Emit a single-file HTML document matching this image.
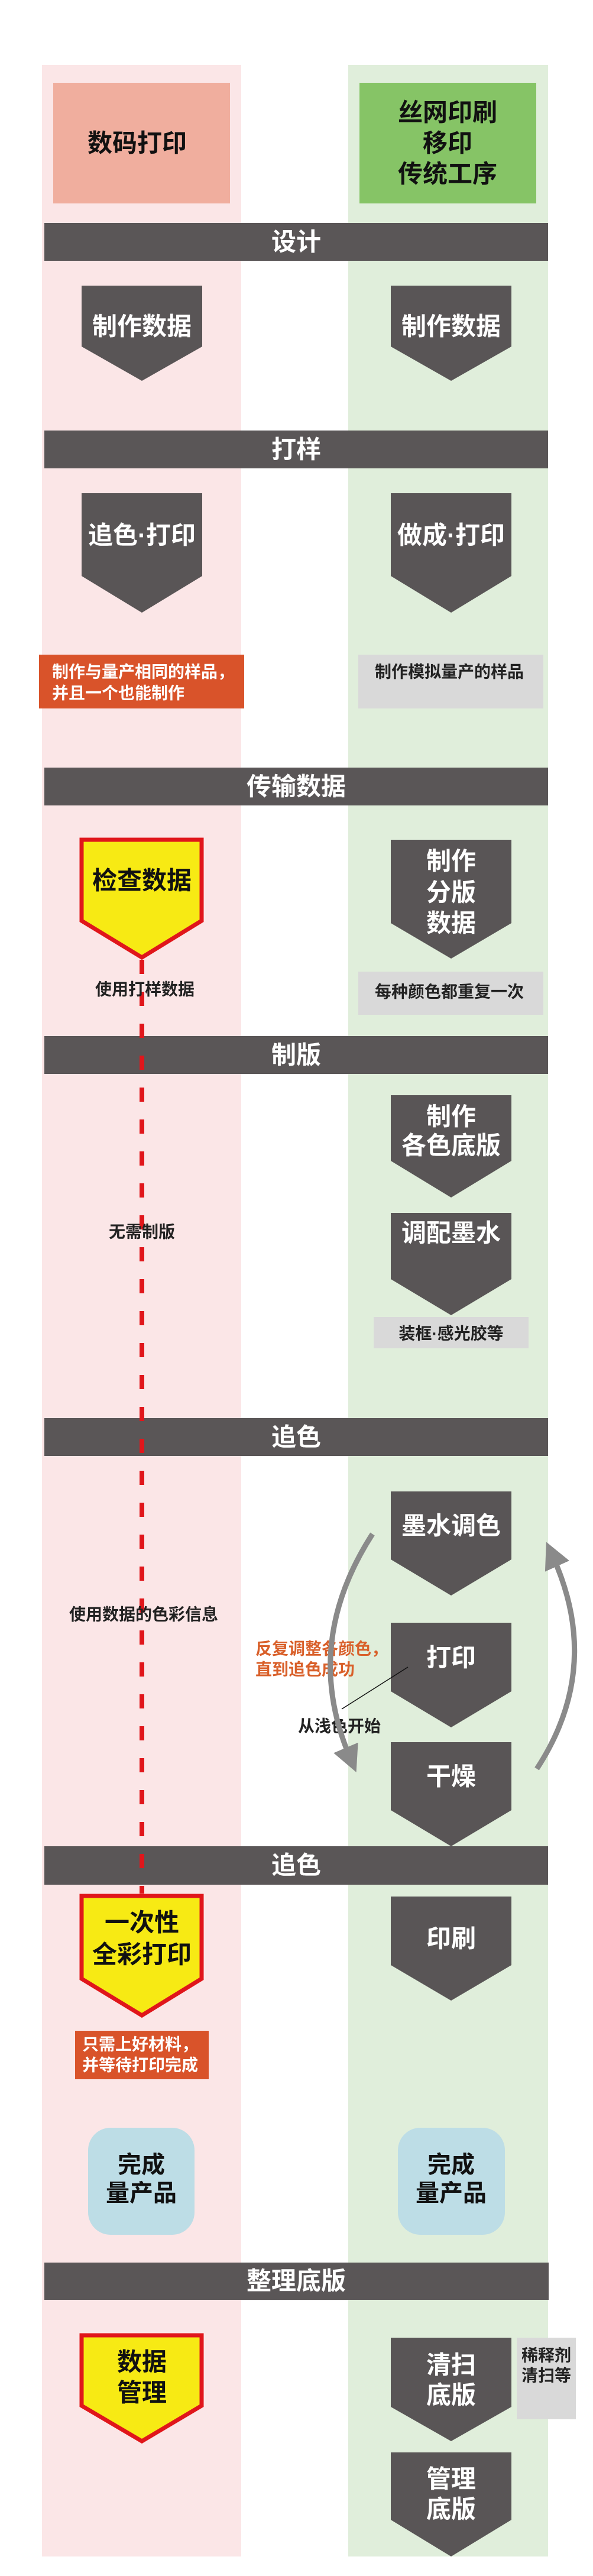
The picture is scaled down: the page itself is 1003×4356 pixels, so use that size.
<!DOCTYPE html>
<html><head><meta charset="utf-8"><style>
html,body{margin:0;padding:0;background:#fff;}
svg{display:block;}
text{font-family:"Liberation Sans","Noto Sans CJK SC",sans-serif;font-weight:bold;}
</style></head><body>
<svg width="1003" height="4356" viewBox="0 0 1003 4356" xmlns="http://www.w3.org/2000/svg">
<defs>
<marker id="ah" viewBox="0 0 10 10" refX="4" refY="5" markerWidth="5" markerHeight="5" orient="auto" markerUnits="strokeWidth">
<path d="M0,0 L10,5 L0,10 z" fill="#8a8a8a"/>
</marker>
</defs>
<rect x="71" y="110" width="337" height="4213" fill="#fbe6e7"/>
<rect x="589" y="110" width="338" height="4213" fill="#e0eedb"/>
<rect x="90" y="140" width="299" height="204" fill="#f0ae9e"/>
<rect x="608" y="140" width="299" height="204" fill="#86c466"/>
<g font-size="42" fill="#111" text-anchor="middle" dominant-baseline="central">
<text x="232" y="242">数码打印</text>
<text x="757" y="190">丝网印刷</text>
<text x="757" y="242">移印</text>
<text x="757" y="294">传统工序</text>
</g>
<g fill="#5a5657">
<rect x="75" y="377" width="852" height="64"/>
<rect x="75" y="728" width="852" height="64"/>
<rect x="75" y="1298" width="852" height="64"/>
<rect x="75" y="1752" width="852" height="64"/>
<rect x="75" y="2398" width="852" height="64"/>
<rect x="75" y="3122" width="852" height="65"/>
<rect x="75" y="3826" width="853" height="63"/>
</g>
<g font-size="42" fill="#fff" text-anchor="middle" dominant-baseline="central">
<text x="501" y="409">设计</text>
<text x="501" y="760">打样</text>
<text x="501" y="1330">传输数据</text>
<text x="501" y="1784">制版</text>
<text x="501" y="2430">追色</text>
<text x="501" y="3154">追色</text>
<text x="501" y="3857">整理底版</text>
</g>
<line x1="240" y1="1623" x2="240" y2="3202" stroke="#e0161b" stroke-width="8" stroke-dasharray="24 30"/>
<g fill="#595556">
<polygon points="138,483 342,483 342,586 240,644 138,586"/>
<polygon points="661,483 865,483 865,586 763,644 661,586"/>
<polygon points="138,834 342,834 342,974 240,1036 138,974"/>
<polygon points="661,834 865,834 865,974 763,1036 661,974"/>
<polygon points="661,1420 865,1420 865,1561 763,1621 661,1561"/>
<polygon points="661,1852 865,1852 865,1963 763,2025 661,1963"/>
<polygon points="661,2051 865,2051 865,2163 763,2224 661,2163"/>
<polygon points="661,2522 865,2522 865,2637 763,2698 661,2637"/>
<polygon points="661,2744 865,2744 865,2860 763,2921 661,2860"/>
<polygon points="661,2946 865,2946 865,3061 763,3122 661,3061"/>
<polygon points="661,3207 865,3207 865,3323 763,3383 661,3323"/>
<polygon points="661,3953 865,3953 865,4070 763,4128 661,4070"/>
<polygon points="661,4147 865,4147 865,4261 763,4323 661,4261"/>
</g>
<g fill="#f7ea14" stroke="#e0161b" stroke-width="7">
<polygon points="138,1420 341,1420 341,1557 240,1619 138,1557"/>
<polygon points="138,3206 341,3206 341,3346 240,3408 138,3346"/>
<polygon points="138,3949 341,3949 341,4068 240,4128 138,4068"/>
</g>
<g font-size="42" fill="#fff" text-anchor="middle" dominant-baseline="central">
<text x="240" y="552">制作数据</text>
<text x="763" y="552">制作数据</text>
<text x="240" y="905">追色·打印</text>
<text x="763" y="905">做成·打印</text>
<text x="763" y="1456">制作</text>
<text x="763" y="1509">分版</text>
<text x="763" y="1561">数据</text>
<text x="763" y="1888">制作</text>
<text x="763" y="1937">各色底版</text>
<text x="763" y="2085">调配墨水</text>
<text x="763" y="2580">墨水调色</text>
<text x="763" y="2803">打印</text>
<text x="763" y="3004">干燥</text>
<text x="763" y="3278">印刷</text>
<text x="763" y="3999">清扫</text>
<text x="763" y="4050">底版</text>
<text x="763" y="4192">管理</text>
<text x="763" y="4243">底版</text>
</g>
<g font-size="42" fill="#111" text-anchor="middle" dominant-baseline="central">
<text x="240" y="1489">检查数据</text>
<text x="240" y="3251">一次性</text>
<text x="240" y="3305">全彩打印</text>
<text x="240" y="3994">数据</text>
<text x="240" y="4046">管理</text>
</g>
<rect x="66" y="1107" width="347" height="91" fill="#d9532a"/>
<rect x="606" y="1107" width="313" height="91" fill="#d9d9d9"/>
<rect x="606" y="1643" width="313" height="73" fill="#d9d9d9"/>
<rect x="632" y="2227" width="262" height="53" fill="#d9d9d9"/>
<rect x="127" y="3434" width="226" height="82" fill="#d9532a"/>
<rect x="874" y="3953" width="100" height="138" fill="#d9d9d9"/>
<g font-size="28" fill="#fff" dominant-baseline="central">
<text x="88" y="1136">制作与量产相同的样品，</text>
<text x="88" y="1172">并且一个也能制作</text>
<text x="139" y="3457">只需上好材料，</text>
<text x="139" y="3492">并等待打印完成</text>
</g>
<g font-size="28" fill="#222" text-anchor="middle" dominant-baseline="central">
<text x="760" y="1136">制作模拟量产的样品</text>
<text x="760" y="1677">每种颜色都重复一次</text>
<text x="763" y="2255">装框·感光胶等</text>
<text x="924" y="3983">稀释剂</text>
<text x="924" y="4017">清扫等</text>
<text x="245" y="1673">使用打样数据</text>
<text x="240" y="2083">无需制版</text>
<text x="243" y="2730">使用数据的色彩信息</text>
<text x="574" y="2919">从浅色开始</text>
</g>
<g font-size="28" fill="#d9602a" dominant-baseline="central">
<text x="432" y="2788">反复调整各颜色，</text>
<text x="432" y="2823">直到追色成功</text>
</g>
<line x1="690" y1="2819" x2="578" y2="2890" stroke="#111" stroke-width="1.5"/>
<path d="M630,2594 Q510,2780 592,2972" fill="none" stroke="#8a8a8a" stroke-width="9" marker-end="url(#ah)"/>
<path d="M908,2991 Q1020,2820 935,2632" fill="none" stroke="#8a8a8a" stroke-width="9" marker-end="url(#ah)"/>
<rect x="149" y="3598" width="180" height="181" rx="38" ry="38" fill="#bddde6"/>
<rect x="673" y="3598" width="181" height="181" rx="38" ry="38" fill="#bddde6"/>
<g font-size="40" fill="#111" text-anchor="middle" dominant-baseline="central">
<text x="239" y="3661">完成</text>
<text x="239" y="3709">量产品</text>
<text x="763" y="3661">完成</text>
<text x="763" y="3709">量产品</text>
</g>
</svg>
</body></html>
